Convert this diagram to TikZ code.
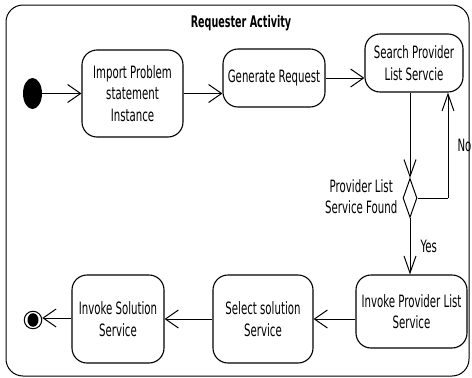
\documentclass[tikz,border=0pt]{standalone}
\usepackage{fontspec}
\setmainfont{DejaVu Sans}[FakeStretch=0.6]
\usetikzlibrary{arrows.meta,shapes.geometric}

\tikzset{
  act/.style={draw, line width=1.1pt, rectangle, rounded corners=15pt,
    inner sep=0pt, align=center, font=\fontsize{17}{21.5}\selectfont},
  lbl/.style={inner sep=0pt, align=center, font=\fontsize{17}{21.5}\selectfont},
  flow/.style={line width=1pt},
  harrow/.style={flow, -{Straight Barb[length=13pt,width=18pt,line width=1pt]}},
  varrow/.style={flow, -{Straight Barb[length=17pt,width=12pt,line width=1pt]}},
}

\begin{document}
\begin{tikzpicture}[x=1pt, y=-1pt]
  \useasboundingbox (0,0) rectangle (472,378);

  % activity frame and title
  \draw[line width=1pt, rounded corners=17pt] (6,5) rectangle (469,376);
  \node[font=\fontsize{16}{19}\selectfont\bfseries, inner sep=0pt] (title) at (241,23) {Requester Activity};

  % initial and final nodes
  \node[ellipse, fill=black, minimum width=19pt, minimum height=31pt, inner sep=0pt] (start) at (32.5,93.5) {};
  \node[circle, draw, line width=1pt, minimum size=17.5pt, inner sep=0pt,
        path picture={\fill (path picture bounding box.center) ellipse[x radius=5.5pt, y radius=6.8pt];}]
        (final) at (33,320) {};

  % actions
  \node[act, minimum width=101pt, minimum height=87pt] (imp) at (132.5,93.5) {Import Problem\\statement\\Instance};
  \node[act, minimum width=102pt, minimum height=58pt] (gen) at (274,78) {Generate Request};
  \node[act, minimum width=98pt, minimum height=58pt] (srch) at (414,63) {Search Provider\\List Servcie};
  \node[act, minimum width=111pt, minimum height=73pt] (prov) at (411.5,311.5) {Invoke Provider List\\Service};
  \node[act, minimum width=100pt, minimum height=88pt] (sel) at (263,319) {Select solution\\Service};
  \node[act, minimum width=92pt, minimum height=88pt] (sol) at (118,319) {Invoke Solution\\Service};

  % decision
  \node[diamond, draw, line width=1pt, inner sep=0pt, aspect=0.36,
        minimum width=14pt, minimum height=39pt] (dia) at (410,198) {};
  \node[lbl, anchor=east] (dlbl) at ([xshift=-5pt,yshift=1.5pt]dia.west) {Provider List\\Service Found};
  \coordinate (nobend) at (448,198);

  % control flows
  \draw[harrow] (start.east) -- (start.east -| imp.west);
  \draw[harrow] (imp.east) -- (imp.east -| gen.west);
  \draw[harrow] (gen.east) -- (gen.east -| srch.west);
  \draw[varrow] (srch.south -| dia.north) -- (dia.north);
  \draw[varrow] (dia.south) -- (dia.south |- prov.north)
    node[lbl, midway, right, xshift=10pt] {Yes};
  \draw[flow] (dia.east) -- (nobend);
  \draw[varrow] (nobend) -- (nobend |- srch.south)
    node[lbl, midway, right, xshift=9pt] {No};
  \draw[harrow] (prov.west |- sel.east) -- (sel.east);
  \draw[harrow] (sel.west) -- (sel.west -| sol.east);
  \draw[harrow] (sol.west |- 0,318) -- (final.east |- 0,318);
\end{tikzpicture}
\end{document}
